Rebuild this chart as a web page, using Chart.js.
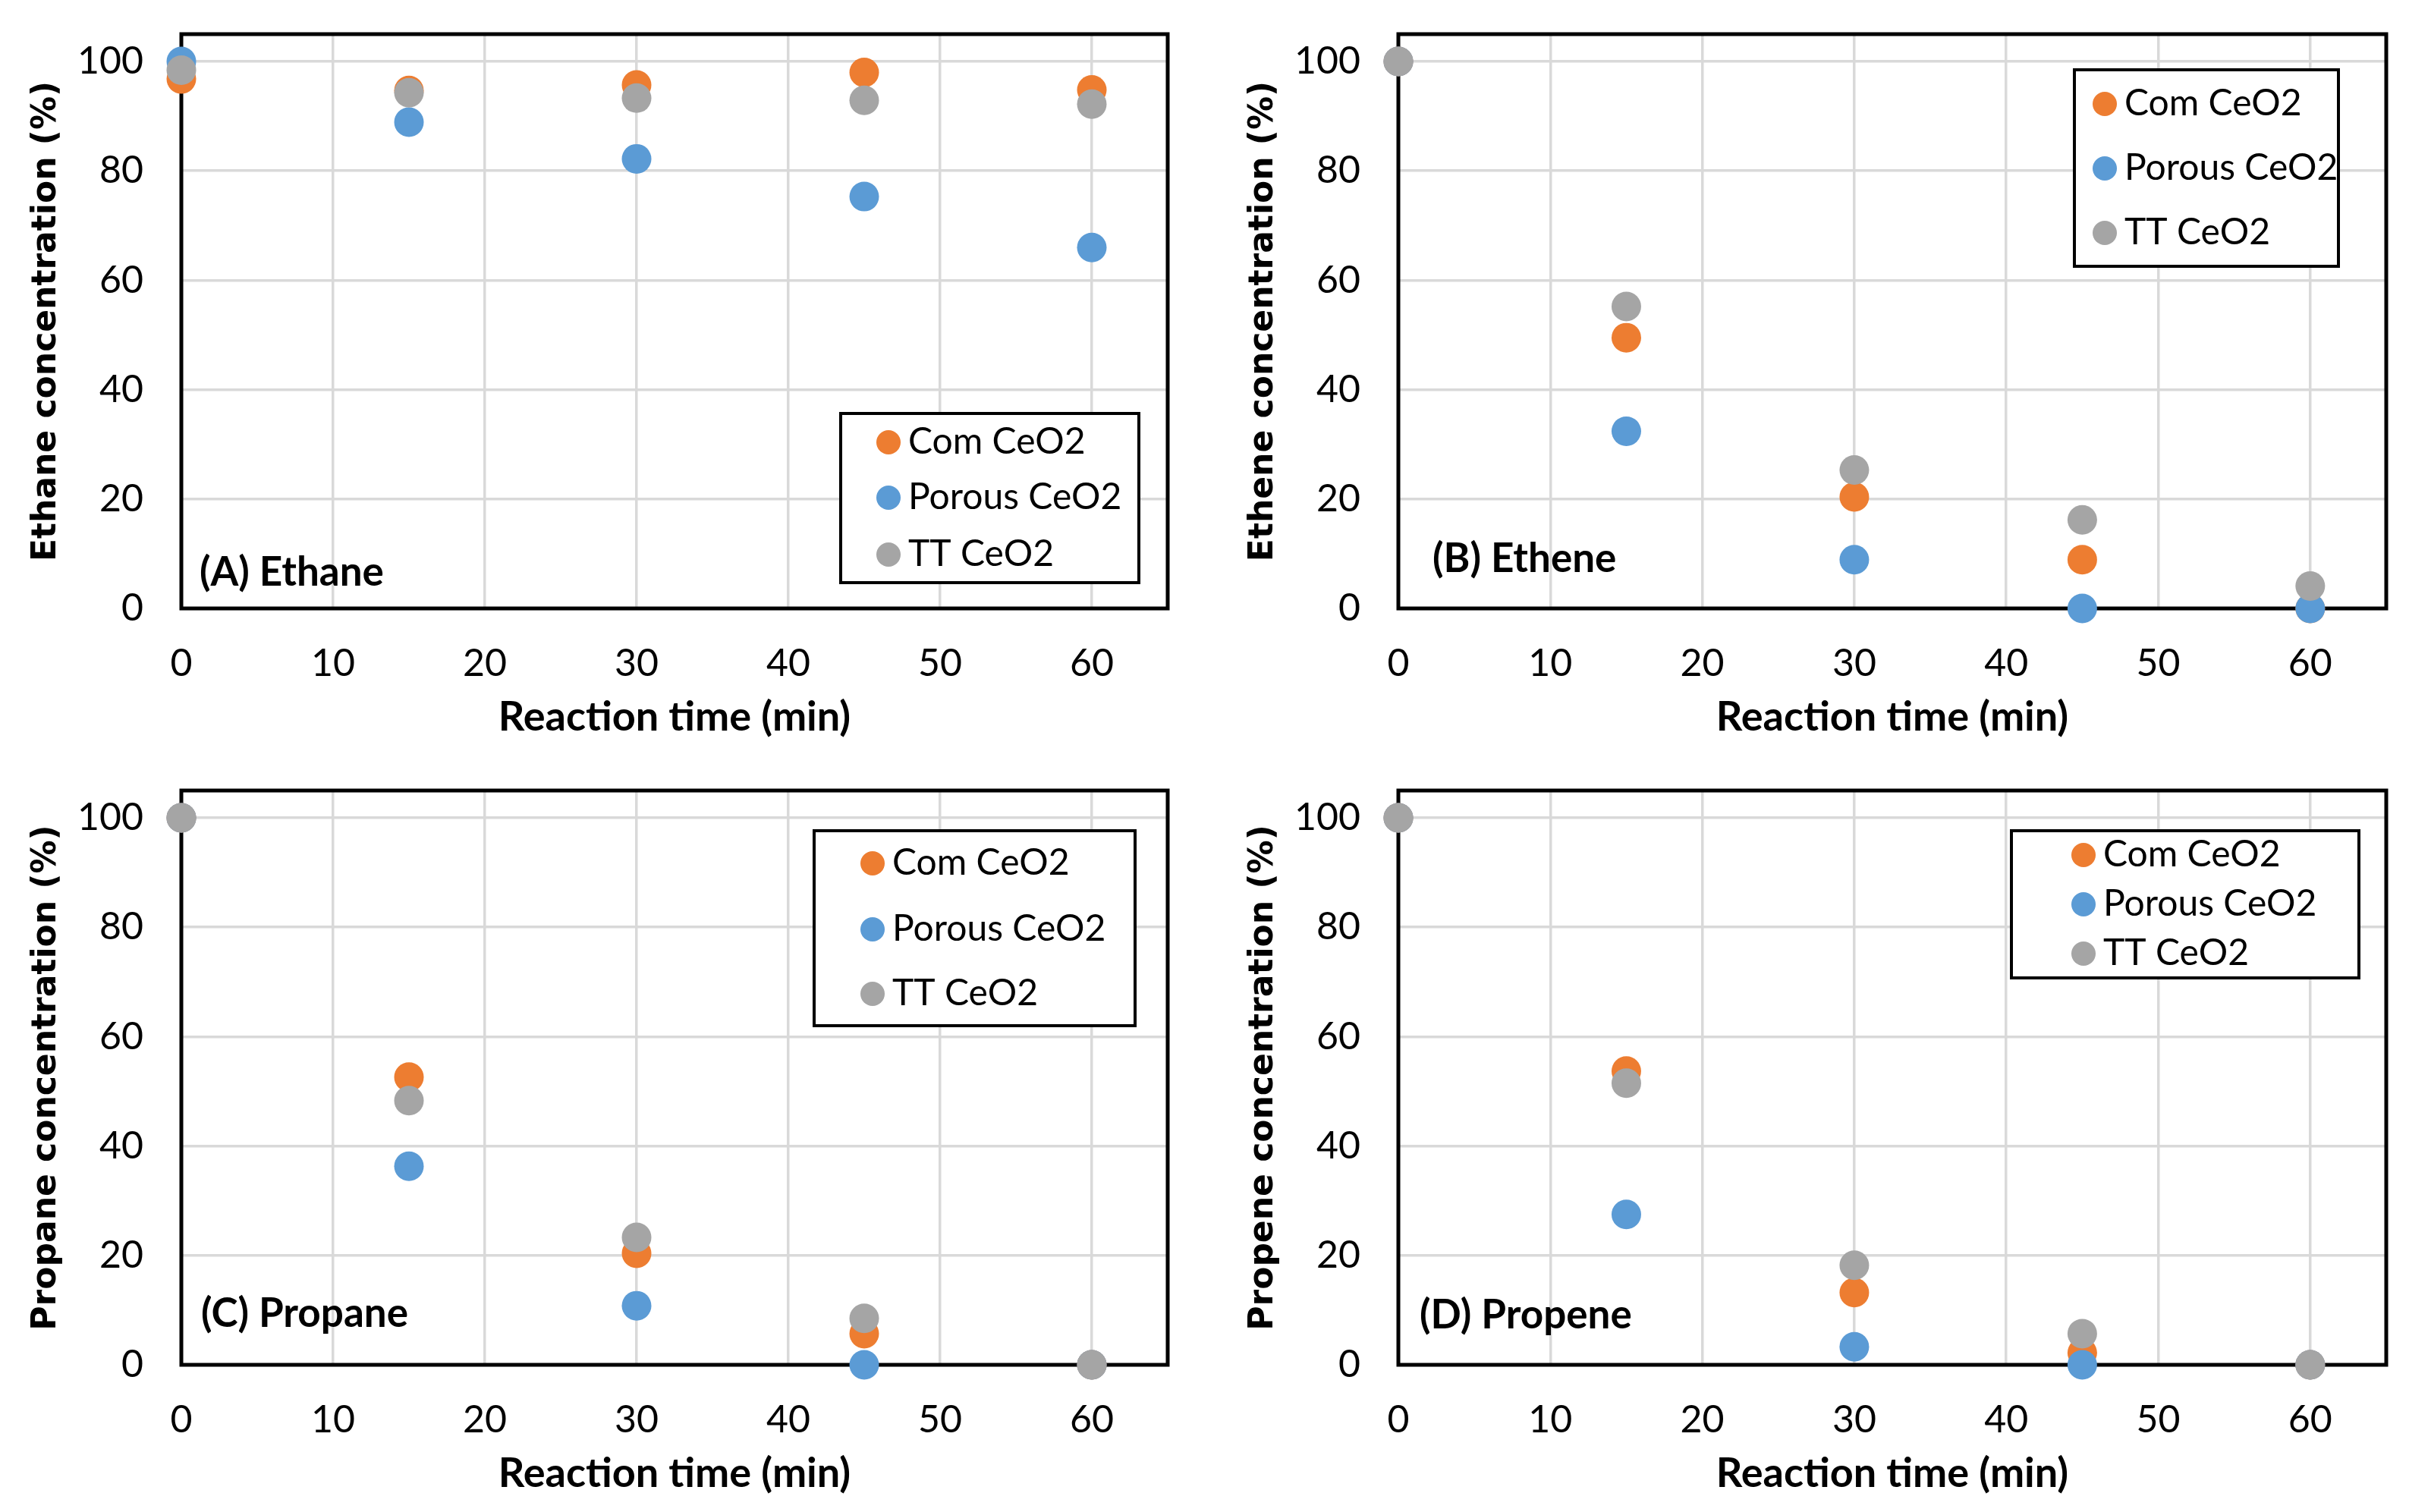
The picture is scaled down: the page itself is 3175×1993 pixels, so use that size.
<!DOCTYPE html>
<html>
<head>
<meta charset="utf-8">
<script src="https://cdn.jsdelivr.net/npm/chart.js@4.4.1/dist/chart.umd.min.js"></script>
<style>
html, body { margin: 0; padding: 0; background: #fff; }
body { width: 3175px; height: 1993px; position: relative; overflow: hidden; }
canvas { position: absolute; }
</style>
</head>
<body>
<canvas id="chartA"></canvas>
<canvas id="chartB"></canvas>
<canvas id="chartC"></canvas>
<canvas id="chartD"></canvas>
<script>
// data
var times = [0, 15, 30, 45, 60];
var xTicks = [0, 10, 20, 30, 40, 50, 60];
var yTicks = [0, 20, 40, 60, 80, 100];
var seriesNames = ['Com CeO2', 'Porous CeO2', 'TT CeO2'];
var seriesColors = ['#ED7D31', '#5B9BD5', '#A5A5A5'];

var ethaneCom = [96.8, 94.7, 95.7, 98.0, 94.8];
var ethanePorous = [100, 88.9, 82.2, 75.3, 66.0];
var ethaneTT = [98.4, 94.3, 93.3, 92.9, 92.2];

var etheneCom = [100, 49.5, 20.4, 8.9, 0];
var ethenePorous = [100, 32.4, 8.9, 0, 0];
var etheneTT = [100, 55.2, 25.3, 16.2, 4.1];

var propaneCom = [100, 52.6, 20.4, 5.7, 0];
var propanePorous = [100, 36.3, 10.8, 0, 0];
var propaneTT = [100, 48.3, 23.3, 8.5, 0];

var propeneCom = [100, 53.7, 13.2, 2.2, 0];
var propenePorous = [100, 27.5, 3.3, 0, 0];
var propeneTT = [100, 51.5, 18.2, 5.7, 0];

var yTitles = ['Ethane concentration (%)', 'Ethene concentration (%)', 'Propane concentration (%)', 'Propene concentration (%)'];
var panelLabels = ['(A) Ethane', '(B) Ethene', '(C) Propane', '(D) Propene'];

var TICK_FONT = { family: 'Lato, "Open Sans", sans-serif', size: 50 };

// frame + panel label + legend box
var framePlugin = {
    id: 'frame',
    beforeDatasetsDraw: function (chart) {
        var a = chart.chartArea, ctx = chart.ctx;
        ctx.save();
        ctx.strokeStyle = '#000';
        ctx.lineWidth = 5;
        ctx.strokeRect(a.left, a.top, a.right - a.left, a.bottom - a.top);
        ctx.restore();
    },
    afterDraw: function (chart) {
        var o = chart.options.plugins.frame, a = chart.chartArea, ctx = chart.ctx;
        ctx.save();
        ctx.fillStyle = '#000';
        ctx.font = 'bold 53px Lato, "Open Sans", sans-serif';
        ctx.textBaseline = 'middle';
        ctx.textAlign = 'left';
        ctx.fillText(o.label, a.left + o.labelDx, a.bottom - o.labelDy);

        var lg = o.legend;
        var bx = a.right - lg.right - lg.w;
        var by = lg.top != null ? a.top + lg.top : a.bottom - lg.bottom - lg.h;
        ctx.fillStyle = '#fff';
        ctx.fillRect(bx, by, lg.w, lg.h);
        ctx.strokeStyle = '#000';
        ctx.lineWidth = 4;
        ctx.strokeRect(bx, by, lg.w, lg.h);
        ctx.font = '48px Lato, "Open Sans", sans-serif';
        chart.data.datasets.forEach(function (ds, i) {
            var cy = by + lg.items[i];
            ctx.fillStyle = ds.backgroundColor;
            ctx.beginPath();
            ctx.arc(bx + lg.marker, cy, 16, 0, Math.PI * 2);
            ctx.fill();
            ctx.fillStyle = '#000';
            ctx.fillText(ds.label, bx + lg.marker + 26, cy);
        });
        ctx.restore();
    }
};

function makePanel(id, pos, values, idx, legend, labelOff) {
    var cv = document.getElementById(id);
    cv.width = pos.w; cv.height = pos.h;
    cv.style.left = pos.x + 'px'; cv.style.top = pos.y + 'px';
    var datasets = values.map(function (arr, i) {
        return {
            label: seriesNames[i],
            data: times.map(function (t, j) { return { x: t, y: arr[j] }; }),
            backgroundColor: seriesColors[i],
            borderWidth: 0,
            pointRadius: 19.5,
            pointHoverRadius: 19.5,
            order: 3 - i,
            clip: false
        };
    });
    return new Chart(cv, {
        type: 'scatter',
        data: { datasets: datasets },
        plugins: [framePlugin],
        options: {
            responsive: false,
            animation: false,
            devicePixelRatio: 1,
            layout: { padding: { top: 45, right: pos.padRight, left: 0, bottom: 0 } },
            plugins: {
                legend: { display: false },
                tooltip: { enabled: false },
                frame: { label: panelLabels[idx], labelDx: labelOff[0], labelDy: labelOff[1], legend: legend }
            },
            scales: {
                x: {
                    type: 'linear', min: 0, max: 65,
                    afterBuildTicks: function (s) { s.ticks = xTicks.map(function (v) { return { value: v }; }); },
                    afterFit: function (s) { s.height = 194; s.paddingLeft = 0; s.paddingRight = 0; },
                    grid: { color: '#D9D9D9', lineWidth: 3.5, drawTicks: false },
                    border: { display: false },
                    ticks: { font: TICK_FONT, color: '#000', padding: 43, maxRotation: 0 },
                    title: { display: true, text: 'Reaction time (min)', color: '#000',
                        font: { family: 'Lato, "Open Sans", sans-serif', size: 54, weight: 'bold' },
                        padding: { top: 0, bottom: 18 } }
                },
                y: {
                    type: 'linear', min: 0, max: 105,
                    afterBuildTicks: function (s) { s.ticks = yTicks.map(function (v) { return { value: v }; }); },
                    afterFit: function (s) { s.width = 239; s.paddingTop = 0; s.paddingBottom = 0; },
                    grid: { color: '#D9D9D9', lineWidth: 3.5, drawTicks: false },
                    border: { display: false },
                    ticks: { font: TICK_FONT, color: '#000', padding: 50 },
                    title: { display: true, text: yTitles[idx], color: '#000',
                        font: { family: '"DejaVu Sans", Verdana, sans-serif', size: 44, weight: 'bold' },
                        padding: { top: 35, bottom: 0 } }
                }
            }
        }
    });
}

makePanel('chartA', { x: 0, y: 0, w: 1587, h: 996, padRight: 48 },
    [ethaneCom, ethanePorous, ethaneTT], 0,
    { right: 38, bottom: 34, w: 393, h: 223, marker: 63, items: [38, 111, 186] }, [24, 47]);
makePanel('chartB', { x: 1604, y: 0, w: 1571, h: 996, padRight: 30 },
    [etheneCom, ethenePorous, etheneTT], 1,
    { right: 63, top: 47, w: 348, h: 259, marker: 40, items: [45, 130, 215] }, [45, 65]);
makePanel('chartC', { x: 0, y: 997, w: 1587, h: 996, padRight: 48 },
    [propaneCom, propanePorous, propaneTT], 2,
    { right: 43, top: 53, w: 423, h: 257, marker: 77, items: [43, 130, 215] }, [26, 67]);
makePanel('chartD', { x: 1604, y: 997, w: 1571, h: 996, padRight: 30 },
    [propeneCom, propenePorous, propeneTT], 3,
    { right: 36, top: 53, w: 458, h: 194, marker: 95, items: [32, 97, 162] }, [28, 65]);
</script>
</body>
</html>
